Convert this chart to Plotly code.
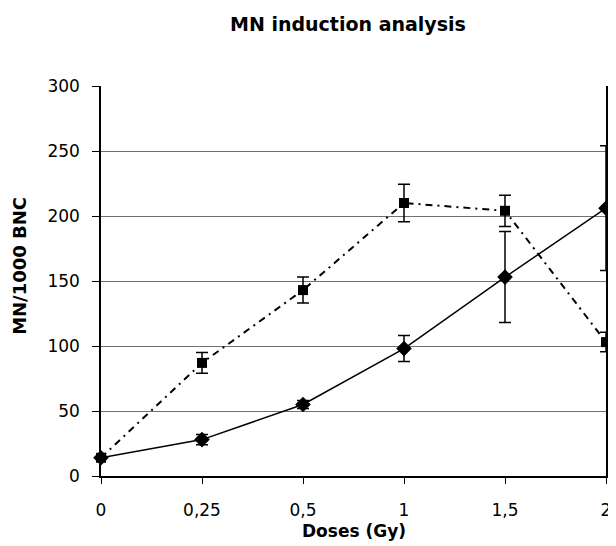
import plotly.graph_objects as go

doses = ["0", "0,25", "0,5", "1", "1,5", "2"]
mn_square = [14, 87, 143, 210, 204, 103]
err_square = [0, 8, 10, 14.5, 12, 7.5]
mn_diamond = [14, 28, 55, 98, 153, 206]
err_diamond = [0, 4, 3, 10, 35, 48]
y_ticks = [0, 50, 100, 150, 200, 250, 300]

FONT = "DejaVu Sans"

fig = go.Figure()
fig.add_trace(go.Scatter(
    x=doses, y=mn_diamond, mode="lines+markers",
    line=dict(color="black", width=1.5),
    marker=dict(symbol="diamond", size=12, color="black"),
    error_y=dict(type="data", array=err_diamond, color="black", thickness=1.5, width=6),
    cliponaxis=False, showlegend=False,
))
fig.add_trace(go.Scatter(
    x=doses, y=mn_square, mode="lines+markers",
    line=dict(color="black", width=2, dash="7px,5px,2px,5px"),
    marker=dict(symbol="square", size=10, color="black"),
    error_y=dict(type="data", array=err_square, color="black", thickness=1.5, width=6),
    cliponaxis=False, showlegend=False,
))

fig.update_layout(
    width=608, height=538,
    margin=dict(l=93, r=5, t=78, b=70),
    paper_bgcolor="white", plot_bgcolor="white",
    font=dict(family=FONT, size=17, color="black"),
    xaxis=dict(
        type="category", range=[0, 5], showgrid=False,
        showline=True, linecolor="black", linewidth=1.5,
        ticks="outside", ticklen=6, tickcolor="black",
        ticklabelstandoff=12, tickfont=dict(family=FONT, size=17),
    ),
    yaxis=dict(
        range=[0, 300], tickvals=y_ticks,
        showgrid=True, gridcolor="#707070", gridwidth=1.2,
        showline=True, linecolor="black", linewidth=1.5, mirror=True,
        ticks="outside", ticklen=7, tickcolor="black",
        ticklabelstandoff=9, tickfont=dict(family=FONT, size=17),
        zeroline=False,
    ),
    annotations=[
        dict(text="<b>MN induction analysis</b>", xref="paper", yref="paper",
             x=0.49, y=1.159, showarrow=False, font=dict(family=FONT, size=19),
             xanchor="center", yanchor="middle"),
        dict(text="<b>Doses (Gy)</b>", xref="paper", yref="paper",
             x=0.5, y=-0.142, showarrow=False, font=dict(family=FONT, size=17),
             xanchor="center", yanchor="middle"),
        dict(text="<b>MN/1000 BNC</b>", xref="paper", yref="paper",
             x=-0.163, y=0.538, showarrow=False, textangle=-90,
             font=dict(family=FONT, size=18),
             xanchor="center", yanchor="middle"),
    ],
)

fig.write_html("out.html")
